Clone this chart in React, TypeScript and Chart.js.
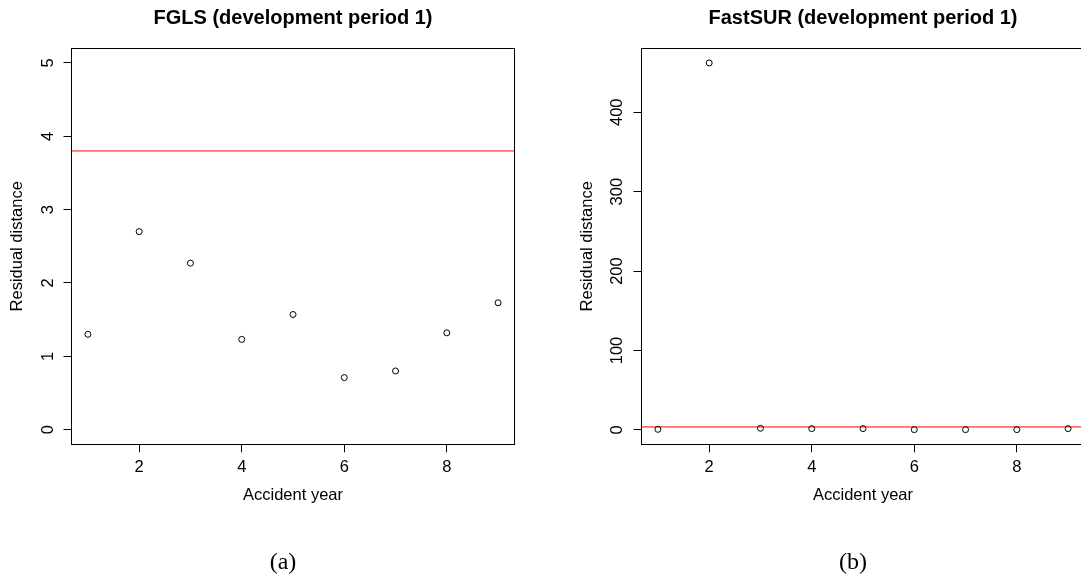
import React, { useEffect, useRef } from "react";
import { Chart, registerables } from "chart.js";

Chart.register(...registerables);

// ---- data ----
const accidentYears = [1, 2, 3, 4, 5, 6, 7, 8, 9];
const fglsDistance = [1.3, 2.7, 2.27, 1.23, 1.57, 0.71, 0.8, 1.32, 1.73];
const fastSurDistance = [0.8, 462, 2.1, 1.7, 1.7, 0.4, 0.4, 0.4, 1.7];
const fglsCutoff = 3.8;
const fastSurCutoff = 3.8;
const xTickValues = [2, 4, 6, 8];
const fglsYTickValues = [0, 1, 2, 3, 4, 5];
const fastSurYTickValues = [0, 100, 200, 300, 400];
const fglsYLimits = [0, 5];
const panelTitles = ["FGLS (development period 1)", "FastSUR (development period 1)"];
const captions = ["(a)", "(b)"];
const xAxisTitle = "Accident year";
const yAxisTitle = "Residual distance";

const SANS = "'Liberation Sans', Arial, Helvetica, sans-serif";

function padRange(lo: number, hi: number): [number, number] {
  const d = (hi - lo) * 0.04;
  return [lo - d, hi + d];
}

const boxPlugin = {
  id: "plotBox",
  afterDatasetsDraw(chart: any) {
    const { ctx, chartArea: a } = chart;
    const al = (p: number) => Math.round(p - 0.5) + 0.5;
    const l = al(a.left);
    const r = al(a.right);
    const t = al(a.top);
    const b = al(a.bottom);
    ctx.save();
    ctx.strokeStyle = "#000";
    ctx.lineWidth = 1;
    ctx.strokeRect(l, t, r - l, b - t);
    ctx.restore();
  },
};

type PanelProps = {
  left: number;
  title: string;
  values: number[];
  cutoff: number;
  yRange: [number, number];
  yTicks: number[];
  yTickPadding: number;
};

function Panel({ left, title, values, cutoff, yRange, yTicks, yTickPadding }: PanelProps) {
  const ref = useRef<HTMLCanvasElement | null>(null);

  useEffect(() => {
    if (!ref.current) return;
    const xRange = padRange(Math.min(...accidentYears), Math.max(...accidentYears));
    const tickFont = { family: SANS, size: 16.5, lineHeight: 1.2 };
    const grid = {
      display: true,
      drawOnChartArea: false,
      drawTicks: true,
      tickLength: 8,
      color: "#000",
      lineWidth: 1,
    };
    const chart = new Chart(ref.current, {
      type: "scatter",
      data: {
        datasets: [
          {
            type: "scatter",
            data: accidentYears.map((x, i) => ({ x, y: values[i] })),
            pointStyle: "circle",
            pointRadius: 3,
            pointHoverRadius: 3,
            pointBorderWidth: 1,
            pointBorderColor: "#000",
            pointBackgroundColor: "rgba(0,0,0,0)",
          } as any,
          {
            type: "line",
            data: [
              { x: xRange[0], y: cutoff },
              { x: xRange[1], y: cutoff },
            ],
            borderColor: "#ff0000",
            borderWidth: 1,
            pointRadius: 0,
            fill: false,
            tension: 0,
          } as any,
        ],
      },
      options: {
        responsive: false,
        animation: false,
        devicePixelRatio: 1,
        events: [],
        layout: {
          padding: { left: 0, right: 55.5, top: 0, bottom: 80.1 },
          autoPadding: false,
        } as any,
        plugins: {
          legend: { display: false },
          tooltip: { enabled: false },
          title: {
            display: true,
            text: title,
            fullSize: false,
            color: "#000",
            font: { family: SANS, size: 20, weight: "bold", lineHeight: 1.2 },
            padding: { top: 6, bottom: 18.3 },
          } as any,
        },
        scales: {
          x: {
            type: "linear",
            position: "bottom",
            min: xRange[0],
            max: xRange[1],
            bounds: "data",
            afterBuildTicks: (s: any) => {
              s.ticks = xTickValues.map((v) => ({ value: v }));
            },
            afterFit: (s: any) => {
              s.height = 60.6;
            },
            grid,
            border: { display: false },
            ticks: {
              color: "#000",
              font: tickFont,
              padding: 5,
              maxRotation: 0,
              minRotation: 0,
              autoSkip: false,
            },
            title: {
              display: true,
              text: xAxisTitle,
              color: "#000",
              font: tickFont,
              padding: { top: 0, bottom: 0 },
            },
          } as any,
          y: {
            type: "linear",
            position: "left",
            min: yRange[0],
            max: yRange[1],
            bounds: "data",
            afterBuildTicks: (s: any) => {
              s.ticks = yTicks.map((v) => ({ value: v }));
            },
            afterFit: (s: any) => {
              s.width = 71.5;
            },
            grid,
            border: { display: false },
            ticks: {
              color: "#000",
              font: tickFont,
              padding: yTickPadding,
              minRotation: 90,
              maxRotation: 90,
              crossAlign: "center",
              autoSkip: false,
            },
            title: {
              display: true,
              text: yAxisTitle,
              color: "#000",
              font: tickFont,
              padding: { top: 7.6, bottom: 0 },
            },
          } as any,
        },
      },
      plugins: [boxPlugin],
    });
    return () => chart.destroy();
  }, []);

  return (
    <canvas
      ref={ref}
      width={570}
      height={585}
      style={{ position: "absolute", left, top: 0, width: 570, height: 585 }}
    />
  );
}

export default function App() {
  const fastRange = padRange(Math.min(...fastSurDistance), Math.max(...fastSurDistance));
  const fglsRange = padRange(fglsYLimits[0], fglsYLimits[1]);
  const captionStyle = (cx: number): React.CSSProperties => ({
    position: "absolute",
    left: cx - 50,
    width: 100,
    top: 546,
    height: 30,
    lineHeight: "30px",
    textAlign: "center",
    fontFamily: "'Liberation Serif', 'DejaVu Serif', serif",
    fontSize: 24,
    color: "#000",
  });
  return (
    <div
      style={{
        position: "absolute",
        left: 0,
        top: 0,
        width: 1081,
        height: 585,
        overflow: "hidden",
        background: "#fff",
      }}
    >
      <Panel
        left={0}
        title={panelTitles[0]}
        values={fglsDistance}
        cutoff={fglsCutoff}
        yRange={fglsRange}
        yTicks={fglsYTickValues}
        yTickPadding={10}
      />
      <Panel
        left={570}
        title={panelTitles[1]}
        values={fastSurDistance}
        cutoff={fastSurCutoff}
        yRange={fastRange}
        yTicks={fastSurYTickValues}
        yTickPadding={2.4}
      />
      <div style={captionStyle(283)}>{captions[0]}</div>
      <div style={captionStyle(853)}>{captions[1]}</div>
    </div>
  );
}
